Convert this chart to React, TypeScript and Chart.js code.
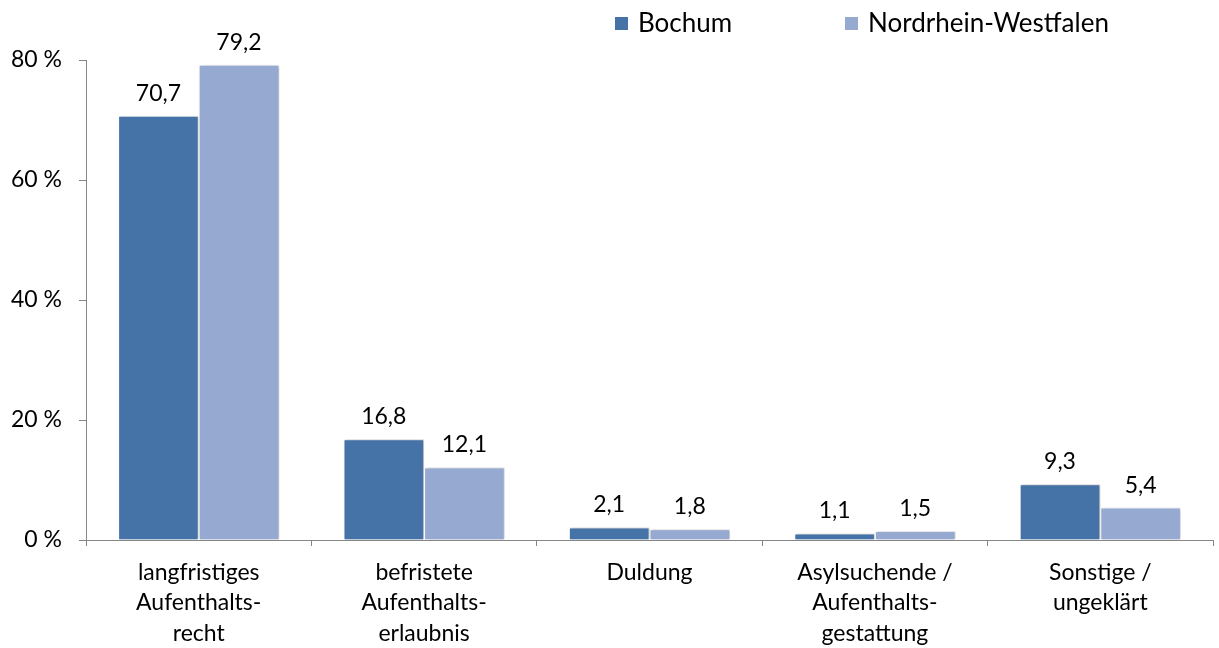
import React, { useEffect, useRef } from "react";
import { Chart, registerables } from "chart.js";

Chart.register(...registerables);

const categories: string[][] = [
  ["langfristiges", "Aufenthalts-", "recht"],
  ["befristete", "Aufenthalts-", "erlaubnis"],
  ["Duldung"],
  ["Asylsuchende /", "Aufenthalts-", "gestattung"],
  ["Sonstige /", "ungeklärt"],
];
const seriesNames = ["Bochum", "Nordrhein-Westfalen"];
const bochum = [70.7, 16.8, 2.1, 1.1, 9.3];
const nrw = [79.2, 12.1, 1.8, 1.5, 5.4];
const yMax = 80;
const yStep = 20;
const colors = ["#4572A7", "#95A9D1"];

const FONT = "Lato, 'Open Sans', sans-serif";
const TEXT = "#000000";
const AXIS = "#868686";

const fmt = (v: number) => v.toFixed(1).replace(".", ",");

const shadowPlugin = {
  id: "barShadow",
  beforeDatasetsDraw(chart: any) {
    const ctx = chart.ctx;
    ctx.save();
    ctx.shadowColor = "rgba(0,0,0,0.28)";
    ctx.shadowBlur = 3;
    ctx.shadowOffsetX = 1.5;
    ctx.shadowOffsetY = 0;
  },
  afterDatasetsDraw(chart: any) {
    chart.ctx.restore();
  },
};

const valueLabelPlugin = {
  id: "valueLabels",
  afterDraw(chart: any) {
    const ctx = chart.ctx;
    ctx.save();
    ctx.font = `23px ${FONT}`;
    ctx.fillStyle = TEXT;
    ctx.textAlign = "center";
    ctx.textBaseline = "alphabetic";
    chart.data.datasets.forEach((ds: any, di: number) => {
      const meta = chart.getDatasetMeta(di);
      meta.data.forEach((el: any, i: number) => {
        ctx.fillText(fmt(ds.data[i]), el.x, el.y - 15);
      });
    });
    ctx.restore();
  },
};

const legendX = [615, 845];
const customLegendPlugin = {
  id: "customLegend",
  afterDraw(chart: any) {
    const ctx = chart.ctx;
    ctx.save();
    ctx.font = `26px ${FONT}`;
    ctx.textBaseline = "middle";
    ctx.textAlign = "left";
    chart.data.datasets.forEach((ds: any, i: number) => {
      const x = legendX[i];
      ctx.fillStyle = ds.backgroundColor;
      ctx.fillRect(x, 17, 13, 13);
      ctx.fillStyle = TEXT;
      ctx.fillText(ds.label, x + 23, 24);
    });
    ctx.restore();
  },
};

export default function App() {
  const ref = useRef<HTMLCanvasElement | null>(null);

  useEffect(() => {
    document.body.style.margin = "0";
    if (!ref.current) return;
    const chart = new Chart(ref.current, {
      type: "bar",
      data: {
        labels: categories,
        datasets: [
          {
            label: seriesNames[0],
            data: bochum,
            backgroundColor: colors[0],
            borderColor: "#ffffff",
            borderWidth: 1,
          },
          {
            label: seriesNames[1],
            data: nrw,
            backgroundColor: colors[1],
            borderColor: "#ffffff",
            borderWidth: 1,
          },
        ],
      },
      options: {
        animation: false,
        responsive: true,
        maintainAspectRatio: false,
        datasets: {
          bar: { categoryPercentage: 0.715, barPercentage: 1.0 },
        },
        layout: { padding: { top: 60, right: 6, left: 0, bottom: 0 } },
        plugins: {
          legend: { display: false },
          tooltip: { enabled: false },
        },
        scales: {
          x: {
            grid: {
              offset: true,
              drawOnChartArea: false,
              drawTicks: true,
              tickLength: 6,
              color: AXIS,
            },
            border: { display: true, color: AXIS, width: 1 },
            ticks: {
              color: TEXT,
              font: { family: FONT, size: 23, lineHeight: 1.33 },
              padding: 11,
              maxRotation: 0,
              autoSkip: false,
            },
            afterFit(scale: any) {
              scale.height = 108;
            },
          },
          y: {
            min: 0,
            max: yMax,
            grid: {
              drawOnChartArea: false,
              drawTicks: true,
              tickLength: 7,
              color: AXIS,
            },
            border: { display: true, color: AXIS, width: 1 },
            ticks: {
              stepSize: yStep,
              color: TEXT,
              font: { family: FONT, size: 23 },
              padding: 17,
              callback: (v: any) => `${v} %`,
            },
            afterFit(scale: any) {
              scale.width = 86;
            },
          },
        },
      },
      plugins: [shadowPlugin, valueLabelPlugin, customLegendPlugin],
    });
    return () => chart.destroy();
  }, []);

  return (
    <div style={{ position: "relative", width: "1219px", height: "648px" }}>
      <canvas ref={ref} />
    </div>
  );
}
